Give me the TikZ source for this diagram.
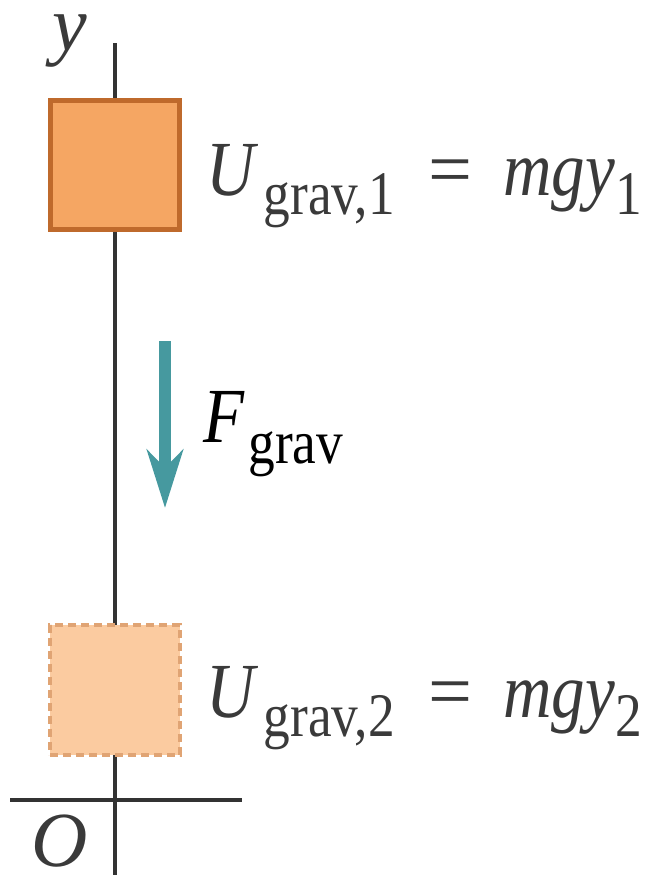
\documentclass[tikz,border=0pt]{standalone}
\usepackage{fontspec}
\setmainfont{Liberation Serif}
\usepackage{graphicx}
\usetikzlibrary{arrows.meta}

\definecolor{axisgray}{HTML}{333333}
\definecolor{labelgray}{HTML}{3A3A3A}
\definecolor{blockfill}{HTML}{F5A663}
\definecolor{blockedge}{HTML}{BF6A2C}
\definecolor{ghostfill}{HTML}{FBCBA0}
\definecolor{ghostedge}{HTML}{E0A474}
\definecolor{forceteal}{HTML}{46999F}

% subscript set lower and smaller, and a narrower setting of a label
\newcommand{\lowsub}[1]{\raisebox{-9.5pt}{\fontsize{31}{37}\selectfont #1}}
\newcommand{\squeeze}[1]{\scalebox{0.86}[1]{#1}}

\begin{document}
\begin{tikzpicture}[
    x=0.5pt, y=-0.5pt,
    font=\fontsize{39}{47}\selectfont,
    axisline/.style ={draw=axisgray, line width=2.3pt},
    blockbox/.style ={rectangle, fill=blockfill, draw=blockedge, line width=2.5pt, minimum size=64.5pt, inner sep=0pt},
    ghostbox/.style ={rectangle, fill=ghostfill, draw=ghostedge, line width=2pt, dash pattern=on 4pt off 2.5pt, minimum size=65pt, inner sep=0pt},
    forcearrow/.style={draw=forceteal, line width=6pt, -{Stealth[length=29pt, width=18pt, inset=9pt]}},
    eqlabel/.style   ={anchor=base west, text=labelgray, inner sep=0pt},
    eqsign/.style    ={anchor=base, text=labelgray, inner sep=0pt},
  ]
  \useasboundingbox (0,0) rectangle (664,875);

  % ---- axes: y up the left, x along the bottom ----
  \coordinate (ytop) at (115,43);
  \coordinate (ybot) at (115,875);
  \coordinate (xleft) at (10,800);
  \coordinate (xright) at (242,800);
  \draw[axisline] (ytop) -- (ybot);
  \draw[axisline] (xleft) -- (xright);
  \node[anchor=base, text=labelgray, inner sep=0pt] (ylab) at (70,50) {\textit{y}};
  \node[anchor=base, text=labelgray, inner sep=0pt] (origin) at (60,866) {\textit{O}};

  % ---- block at y1 (solid) and at y2 (dashed) ----
  \node[blockbox] (blockA) at (115,164.5) {};
  \node[ghostbox] (blockB) at (115,689.5) {};

  \node[eqlabel] (lhsA) at (206,195) {\squeeze{\textit{U}\kern3pt\lowsub{grav,1}}};
  \node[eqsign]  (eqA)  at (450,195) {=};
  \node[eqlabel] (rhsA) at (503,195) {\squeeze{\textit{mgy}\lowsub{1}}};

  \node[eqlabel] (lhsB) at (206,717) {\squeeze{\textit{U}\kern3pt\lowsub{grav,2}}};
  \node[eqsign]  (eqB)  at (450,717) {=};
  \node[eqlabel] (rhsB) at (503,717) {\squeeze{\textit{mgy}\lowsub{2}}};

  % ---- gravity force ----
  \coordinate (ftop) at (165,341);
  \coordinate (fbot) at (165,508);
  \draw[forcearrow] (ftop) -- (fbot);
  \node[anchor=base west, inner sep=0pt] (Fgrav) at (203,442) {\squeeze{\textit{F}\kern2pt\raisebox{-1pt}{\lowsub{grav}}}};
\end{tikzpicture}
\end{document}
